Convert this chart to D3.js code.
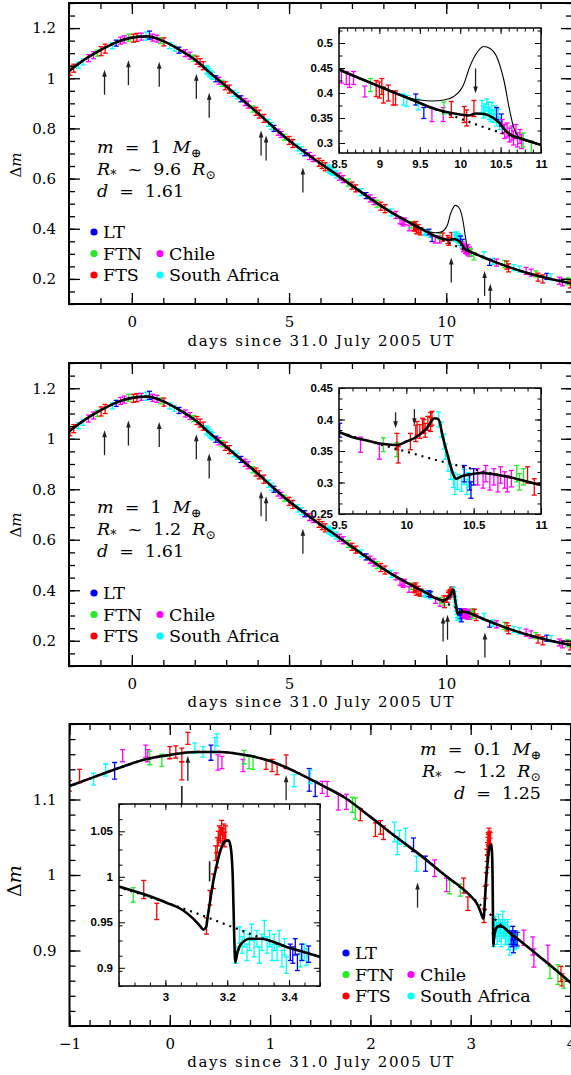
<!DOCTYPE html>
<meta charset="utf-8">
<head>
<style>
  body, html { margin: 0; background: #fff; }
  svg { display: block; font-family: "DejaVu Serif", serif; }
  .lbl { white-space: pre; }
</style>
<script src="https://cdn.jsdelivr.net/npm/d3@7"></script>
</head>
<body>
<svg id="chart" width="571" height="1075"></svg>
<script>
// sites
const siteNames = ["LT", "FTN", "FTS", "Chile", "South Africa"];
const siteColors = ["#0000ff", "#22ee22", "#ff0000", "#ff00ff", "#00ffff"];

// tick labels
const xMajorMain = [0, 5, 10];
const yMajorMain = [0.2, 0.4, 0.6, 0.8, 1, 1.2];
const xMajorIn1 = [8.5, 9, 9.5, 10, 10.5, 11];
const yMajorIn1 = [0.3, 0.35, 0.4, 0.45, 0.5];
const xMajorIn2 = [9.5, 10, 10.5, 11];
const yMajorIn2 = [0.25, 0.3, 0.35, 0.4, 0.45];
const xMajorP3 = [-1, 0, 1, 2, 3, 4];
const yMajorP3 = [0.9, 1, 1.1];
const xMajorIn3 = [3, 3.2, 3.4];
const yMajorIn3 = [0.9, 0.95, 1, 1.05];

// model parameters shown in the panels
const p1Params = ["1", "9.6", "1.61"];
const p2Params = ["1", "1.2", "1.61"];
const p3Params = ["0.1", "1.2", "1.25"];

// no-planet model, panels 1 and 2  [t, dm]
const baseModel = [[-2,1.029],[-1.5,1.075],[-1,1.112],[-0.5,1.143],[0,1.162],[0.5,1.167],[1,1.148],[1.5,1.115],
  [2,1.075],[2.5,1.02],[3,0.968],[3.5,0.915],[4,0.862],[4.5,0.806],[5,0.752],[5.5,0.705],[6,0.66],[6.5,0.617],
  [7,0.572],[7.5,0.528],[8,0.485],[8.5,0.447],[9,0.413],[9.5,0.38],[9.75,0.364],[10,0.349],[10.25,0.334],
  [10.5,0.321],[10.75,0.309],[11,0.296],[11.5,0.27],[12,0.247],[12.5,0.227],[13,0.21],[13.5,0.195],[14,0.182]];
// planet models
const p1Planet = [[9.6,0.373],[9.8,0.363],[10,0.357],[10.1,0.355],[10.2,0.359],[10.3,0.358],[10.4,0.351],
  [10.48,0.341],[10.56,0.325],[10.65,0.314]];
const p1Large = [[9.2,0.399],[9.35,0.391],[9.5,0.386],[9.65,0.384],[9.8,0.386],[9.92,0.393],[10.04,0.416],
  [10.12,0.453],[10.2,0.479],[10.29,0.493],[10.37,0.489],[10.45,0.473],[10.54,0.426],[10.62,0.359],[10.66,0.332],[10.72,0.313]];
const p2Planet = [[9.6,0.372],[9.7,0.367],[9.83,0.361],[9.93,0.3595],[10,0.365],[10.08,0.373],[10.15,0.386],
  [10.21,0.402],[10.24,0.4],[10.27,0.373],[10.31,0.341],[10.35,0.312],[10.37,0.306],[10.41,0.31],[10.48,0.313],[10.56,0.315]];
const p3Base = [[-1,1.118],[-0.75,1.13],[-0.5,1.142],[-0.25,1.153],[0,1.159],[0.25,1.163],[0.5,1.163],[0.75,1.159],
  [1,1.151],[1.25,1.137],[1.5,1.12],[1.75,1.102],[2,1.077],[2.25,1.051],[2.5,1.026],[2.75,0.999],[3,0.972],
  [3.1,0.96],[3.2,0.947],[3.3,0.934],[3.4,0.922],[3.5,0.912],[3.75,0.885],[4,0.857]];
const p3Planet = [[3.0,0.972],[3.058,0.963],[3.09,0.954],[3.112,0.946],[3.123,0.942],[3.132,0.945],[3.136,0.954],
  [3.144,0.972],[3.155,0.995],[3.166,1.013],[3.179,1.03],[3.193,1.039],[3.204,1.04],[3.211,1.033],[3.218,0.998],
  [3.222,0.943],[3.226,0.906],[3.233,0.917],[3.247,0.927],[3.274,0.932],[3.306,0.932]];

// observations [t, dm, err, site]
const sharedObs = [[-1.97,1.03,.018,2],[-1.85,1.04,.016,2],[-1.7,1.052,.012,4],[-1.55,1.065,.012,4],[-1.38,1.08,.014,3],
  [-1.22,1.092,.014,3],[-1.1,1.1,.012,1],[-0.98,1.108,.018,2],[-0.85,1.118,.018,2],[-0.62,1.13,.012,4],[-0.5,1.14,.012,0],
  [-0.36,1.15,.014,3],[-0.24,1.155,.014,3],[-0.1,1.162,.014,1],[0.05,1.16,.016,2],[0.16,1.163,.016,2],[0.3,1.166,.014,3],
  [0.45,1.168,.016,4],[0.56,1.172,.016,0],[0.66,1.162,.014,3],[0.8,1.158,.014,3],[0.92,1.15,.012,1],[1.02,1.145,.016,2],
  [1.2,1.13,.012,4],[1.35,1.12,.012,4],[1.5,1.112,.012,0],[1.7,1.1,.014,3],[1.85,1.09,.014,3],[1.97,1.08,.012,1],
  [2.07,1.072,.016,2],[2.17,1.062,.016,2],[2.27,1.05,.016,2],[2.37,1.035,.016,4],[2.42,1.03,.016,4],[2.47,1.022,.016,4],
  [2.52,1.015,.014,4],[2.57,1.01,.014,4],
  [2.67,0.998,.012,0],[2.77,0.99,.014,3],[2.87,0.98,.012,1],[2.97,0.97,.016,2],[3.1,0.957,.016,2],[3.25,0.94,.012,4],
  [3.35,0.93,.012,4],[3.47,0.918,.012,0],[3.6,0.905,.014,3],[3.7,0.895,.014,3],[3.85,0.877,.012,1],[3.95,0.868,.016,2],
  [4.05,0.857,.016,2],[4.2,0.84,.016,2],[4.35,0.822,.014,4],[4.45,0.81,.014,4],[4.52,0.8,.012,0],[4.65,0.785,.012,3],
  [4.75,0.776,.012,3],[4.85,0.765,.012,1],[5.0,0.752,.016,2],[5.12,0.74,.016,2],[5.28,0.724,.014,4],[5.4,0.713,.014,4],
  [5.5,0.703,.012,0],[5.65,0.69,.014,3],[5.77,0.68,.012,3],[5.95,0.665,.016,2],[6.05,0.656,.016,2],[6.15,0.647,.016,2],
  [6.25,0.64,.014,4],[6.3,0.635,.014,4],[6.35,0.631,.014,4],[6.4,0.627,.014,4],[6.5,0.617,.014,4],[6.6,0.608,.014,3],
  [6.72,0.598,.014,3],[6.88,0.584,.014,1],
  [7.0,0.572,.014,2],[7.12,0.561,.014,2],[7.3,0.546,.014,4],[7.45,0.532,.012,0],[7.58,0.521,.014,3],[7.7,0.51,.014,3],
  [7.8,0.5,.014,1],[7.92,0.49,.016,2],[8.05,0.48,.016,2],[8.25,0.465,.014,4],[8.4,0.455,.014,3],
  [8.53,0.433,.013,3],[8.59,0.43,.013,3],[8.63,0.424,.013,3],[8.68,0.43,.013,3],[8.82,0.403,.011,3],[8.89,0.416,.013,1],
  [8.96,0.409,.016,2],[9.0,0.406,.016,2],[9.03,0.413,.016,2],[9.05,0.396,.016,2],[9.11,0.4,.016,2],[9.17,0.39,.014,2],
  [9.2,0.39,.014,2],[9.3,0.387,.011,4],[9.34,0.384,.011,4],[9.45,0.387,.011,0],[9.48,0.377,.011,4],
  [11.2,0.295,.014,4],[11.38,0.266,.012,0],[11.48,0.27,.012,4],[11.6,0.265,.014,3],[11.86,0.259,.014,1],[11.93,0.255,.016,2],
  [11.98,0.244,.016,2],[12.15,0.245,.012,4],[12.33,0.239,.012,4],[12.54,0.232,.014,3],[12.7,0.225,.014,3],[12.85,0.22,.012,1],
  [12.92,0.207,.016,2],[13.07,0.2,.016,2],[13.2,0.21,.012,0],[13.33,0.208,.012,4],[13.6,0.193,.014,3],[13.7,0.186,.014,3],
  [13.86,0.19,.014,1],[13.95,0.18,.016,2]];
const p1Obs = [[9.55,0.36,.011,0],[9.65,0.357,.014,3],[9.79,0.357,.014,3],[9.8,0.37,.012,1],[9.89,0.367,.016,2],
  [10.05,0.357,.016,2],[10.08,0.35,.016,2],[10.17,0.369,.016,2],
  [10.27,0.373,.012,4],[10.29,0.362,.012,4],[10.31,0.366,.012,4],[10.33,0.376,.012,4],[10.35,0.37,.012,4],[10.36,0.359,.012,4],
  [10.38,0.355,.012,4],[10.39,0.369,.012,4],[10.41,0.353,.012,4],[10.43,0.363,.012,4],[10.45,0.346,.012,4],[10.47,0.356,.012,4],
  [10.49,0.339,.012,4],[10.45,0.359,.012,0],[10.51,0.346,.012,0],
  [10.52,0.333,.014,3],[10.55,0.323,.014,3],[10.58,0.326,.014,3],[10.61,0.316,.014,3],[10.64,0.32,.014,3],[10.66,0.31,.014,3],
  [10.69,0.323,.014,3],[10.71,0.306,.014,3],[10.74,0.313,.014,3],[10.76,0.303,.014,3],[10.78,0.306,.014,1],[10.88,0.29,.014,1]];
const p2Obs = [[9.505,0.383,.011,0],[9.66,0.36,.012,3],[9.8,0.349,.012,3],[9.83,0.36,.011,1],[9.93,0.352,.011,1],
  [9.93,0.365,.013,2],[9.94,0.344,.013,2],[10.03,0.365,.013,2],[10.07,0.378,.013,2],[10.08,0.386,.011,2],[10.1,0.381,.011,2],
  [10.12,0.391,.011,2],[10.13,0.389,.011,2],[10.14,0.383,.011,2],[10.16,0.394,.011,2],[10.18,0.4,.011,2],[10.18,0.392,.011,2],
  [10.19,0.402,.011,2],
  [10.24,0.4,.012,4],[10.26,0.384,.012,4],[10.28,0.365,.012,4],[10.29,0.349,.012,4],[10.31,0.33,.012,4],[10.33,0.317,.012,4],
  [10.35,0.304,.012,4],[10.36,0.293,.012,4],[10.38,0.301,.012,4],[10.41,0.298,.012,4],[10.43,0.309,.012,4],[10.45,0.293,.012,4],
  [10.46,0.304,.012,4],[10.43,0.314,.013,0],[10.47,0.301,.013,0],[10.48,0.288,.013,0],[10.5,0.309,.013,0],
  [10.53,0.309,.013,3],[10.57,0.304,.013,3],[10.59,0.314,.013,3],[10.62,0.301,.013,3],[10.65,0.309,.013,3],[10.68,0.298,.013,3],
  [10.7,0.312,.013,3],[10.73,0.304,.013,3],[10.75,0.298,.013,3],[10.78,0.306,.013,3],
  [10.82,0.314,.013,1],[10.84,0.301,.013,1],[10.87,0.309,.013,1],[10.9,0.312,.013,2],[10.95,0.293,.013,2]];
const p3Obs = [[-1.0,1.118,.007,2],[-0.9,1.131,.009,2],[-0.76,1.127,.008,4],[-0.64,1.139,.008,4],[-0.55,1.138,.011,0],
  [-0.47,1.158,.008,3],[-0.24,1.164,.008,3],[-0.22,1.158,.008,3],[-0.2,1.155,.009,1],[-0.08,1.152,.008,1],[0.0,1.162,.008,2],
  [0.06,1.163,.008,2],[0.12,1.159,.009,2],[0.12,1.138,.012,2],[0.18,1.181,.008,2],[0.25,1.168,.007,4],[0.33,1.163,.007,4],
  [0.41,1.162,.01,0],[0.45,1.172,.01,4],[0.47,1.179,.008,4],[0.48,1.149,.01,3],[0.52,1.149,.008,3],[0.73,1.145,.008,3],
  [0.74,1.156,.009,1],[0.79,1.15,.009,1],[0.83,1.149,.009,1],[0.96,1.146,.006,2],[1.02,1.145,.008,2],[1.07,1.14,.007,2],
  [1.16,1.15,.009,2],[1.24,1.125,.008,4],[1.39,1.126,.015,0],[1.4,1.13,.009,4],[1.45,1.114,.01,0],[1.52,1.116,.008,3],
  [1.57,1.114,.01,3],[1.68,1.097,.011,3],[1.76,1.097,.01,3],[1.82,1.093,.01,1],[1.85,1.088,.014,1],[1.9,1.08,.008,2],
  [2.05,1.06,.009,2],[2.1,1.063,.009,2],[2.13,1.056,.009,2],[2.24,1.057,.013,4],[2.27,1.039,.012,4],[2.29,1.05,.009,4],
  [2.35,1.05,.012,4],[2.43,1.04,.009,0],[2.46,1.015,.01,4],[2.55,1.015,.01,0],[2.64,1.009,.011,3],[2.76,0.987,.009,3],
  [2.79,0.984,.009,1],[3.53,0.917,.01,3],[3.62,0.906,.012,3],[3.63,0.89,.012,3],[3.77,0.895,.012,3],[3.79,0.871,.008,1],
  [3.87,0.868,.013,1],[3.9,0.869,.01,2],[3.91,0.861,.008,2],[3.93,0.857,.007,1]];
const p3InsetObs = [[2.896,0.98,.008,1],[2.93,0.986,.01,2],[2.972,0.962,.009,2],[3.133,0.946,.009,2],[3.144,0.977,.008,2],
  [3.155,0.995,.008,2],[3.166,1.018,.008,2],[3.163,1.026,.008,2],[3.168,1.035,.008,2],[3.171,1.042,.008,2],[3.174,1.048,.008,2],
  [3.178,1.046,.008,2],[3.182,1.054,.008,2],[3.185,1.045,.008,2],[3.189,1.05,.008,2],[3.192,1.041,.008,2],[3.195,1.048,.008,2],
  [3.228,0.914,.009,4],[3.24,0.936,.009,4],[3.248,0.925,.009,4],[3.255,0.932,.009,4],[3.264,0.917,.009,4],[3.272,0.928,.009,4],
  [3.279,0.939,.009,4],[3.287,0.921,.009,4],[3.296,0.932,.009,4],[3.304,0.914,.009,4],[3.312,0.928,.009,4],[3.32,0.943,.009,4],
  [3.329,0.925,.009,4],[3.337,0.932,.009,4],[3.345,0.917,.009,4],[3.352,0.928,.009,4],[3.361,0.917,.009,4],[3.368,0.932,.009,4],
  [3.377,0.91,.009,4],[3.385,0.923,.009,4],[3.391,0.903,.009,4],[3.436,0.91,.009,4],[3.449,0.917,.009,4],[3.457,0.912,.009,4],
  [3.404,0.917,.009,0],[3.412,0.914,.009,0],[3.42,0.923,.009,0],[3.427,0.906,.009,0],[3.441,0.917,.009,0],[3.463,0.915,.009,0]];

// observation-time arrows [t, dm at the arrow tip]
const arrowsEarly = [[-0.87,1.034],[-0.11,1.072],[0.87,1.066],[2.05,1.018],[2.46,0.942],[4.11,0.792],[4.27,0.772],[5.44,0.644]];
const p1ArrowsLate = [[10.16,0.285],[11.22,0.232],[11.4,0.181]];
const p2ArrowsLate = [[9.9,0.296],[10.04,0.303],[11.23,0.233]];
const p1InsetArrows = [[10.19,0.399]];
const p2InsetArrows = [[9.92,0.386],[10.06,0.391]];
const p3Arrows = [[0.18,1.158],[1.16,1.132],[2.47,0.99]];
const p3Marks = [[0.12,1.118]];
const p3InsetMarks = [[3.143,1.017]];

const svg = d3.select("#chart");
const line = (x, y) => d3.line().x(d => x(d[0])).y(d => y(d[1])).curve(d3.curveMonotoneX);
const withPlanet = (base, pl) => base.filter(p => p[0] < pl[0][0]).concat(pl, base.filter(p => p[0] > pl[pl.length - 1][0]));
const fmt = d3.format("");
let clipN = 0;

function drawAxes(g, x, y, o) {
  const [l, r] = x.range(), [b, t] = y.range();
  function side(axis, vals, len, lab, pos, pad) {
    const a = g.append("g").attr("transform", pos)
      .call(axis.tickValues(vals).tickSize(-len).tickPadding(pad || 3).tickFormat(lab ? fmt : () => ""));
    a.select(".domain").remove();
    a.attr("font-family", o.font).attr("font-size", o.fontSize).attr("font-weight", o.weight || null);
    a.selectAll("line").attr("stroke-width", o.tickW);
  }
  const xMin = d3.range(x.domain()[0], x.domain()[1] + 1e-9, o.xStep).map(v => +v.toFixed(4));
  const yMin = d3.range(o.yMinStart, y.domain()[1] + 1e-9, o.yStep).map(v => +v.toFixed(4));
  side(d3.axisBottom(x), xMin, o.minor, false, `translate(0,${b})`);
  side(d3.axisTop(x), xMin, o.minor, false, `translate(0,${t})`);
  side(d3.axisLeft(y), yMin, o.minor, false, `translate(${l},0)`);
  side(d3.axisRight(y), yMin, o.minor, false, `translate(${r},0)`);
  side(d3.axisBottom(x), o.xMajor, o.major, true, `translate(0,${b})`, o.xPad);
  side(d3.axisTop(x), o.xMajor, o.major, false, `translate(0,${t})`);
  side(d3.axisLeft(y), o.yMajor, o.major, true, `translate(${l},0)`, o.yPad);
  side(d3.axisRight(y), o.yMajor, o.major, false, `translate(${r},0)`);
  g.append("rect").attr("x", l).attr("y", t).attr("width", r - l).attr("height", b - t)
    .attr("fill", "none").attr("stroke", "#000").attr("stroke-width", o.frameW);
}

function drawObs(g, x, y, obs, capW) {
  const e = g.append("g").selectAll("g").data(obs).join("g")
    .attr("stroke", d => siteColors[d[3]]).attr("stroke-width", 1.3);
  e.append("line").attr("x1", d => x(d[0])).attr("x2", d => x(d[0]))
    .attr("y1", d => y(d[1] - d[2])).attr("y2", d => y(d[1] + d[2]));
  e.append("line").attr("x1", d => x(d[0]) - capW).attr("x2", d => x(d[0]) + capW)
    .attr("y1", d => y(d[1] - d[2])).attr("y2", d => y(d[1] - d[2]));
  e.append("line").attr("x1", d => x(d[0]) - capW).attr("x2", d => x(d[0]) + capW)
    .attr("y1", d => y(d[1] + d[2])).attr("y2", d => y(d[1] + d[2]));
}

function drawArrows(g, x, y, list, dir, len, head) {
  const a = g.append("g").selectAll("g").data(list).join("g").attr("stroke", "#222").attr("fill", "#222");
  a.append("line").attr("x1", d => x(d[0])).attr("x2", d => x(d[0]))
    .attr("y1", d => y(d[1]) + dir * len).attr("y2", d => y(d[1]) + (head ? dir * 4 : 0))
    .attr("stroke-width", head ? 1.3 : 1.6);
  if (head) a.append("path").attr("stroke", "none")
    .attr("d", d => { const px = x(d[0]), py = y(d[1]);
      return `M${px},${py}L${px - 2.3},${py + dir * 7}L${px + 2.3},${py + dir * 7}Z`; });
}

function plot(c) {
  const g = svg.append("g");
  const x = d3.scaleLinear().domain(c.xDomain).range([c.left, c.right]);
  const y = d3.scaleLinear().domain(c.yDomain).range([c.bottom, c.top]);
  if (c.inset) g.append("rect").attr("x", c.left).attr("y", c.top)
    .attr("width", c.right - c.left).attr("height", c.bottom - c.top).attr("fill", "#fff");
  const id = "clip" + (clipN++);
  g.append("clipPath").attr("id", id).append("rect").attr("x", c.left).attr("y", c.top)
    .attr("width", c.right - c.left).attr("height", c.bottom - c.top);
  const inner = g.append("g").attr("clip-path", `url(#${id})`);
  drawObs(inner, x, y, c.obs.filter(d => d[0] > c.xDomain[0] - 0.1 && d[0] < c.xDomain[1] + 0.1), c.capW);
  inner.append("path").datum(c.base).attr("d", line(x, y)).attr("fill", "none")
    .attr("stroke", "#000").attr("stroke-width", 2.2).attr("stroke-dasharray", "2,5");
  if (c.large) inner.append("path").datum(withPlanet(c.base, c.large)).attr("d", line(x, y))
    .attr("fill", "none").attr("stroke", "#000").attr("stroke-width", 1.1);
  inner.append("path").datum(withPlanet(c.base, c.planet)).attr("d", line(x, y))
    .attr("fill", "none").attr("stroke", "#000").attr("stroke-width", 2.6);
  if (c.arrows) drawArrows(g, x, y, c.arrows, c.arrowDir, c.arrowLen, true);
  if (c.marks) drawArrows(g, x, y, c.marks, 1, c.arrowLen, false);
  drawAxes(g, x, y, c.axes);
  return g;
}

function mainText(g, c) {
  // x and y axis titles
  g.append("text").attr("x", (c.left + c.right) / 2).attr("y", c.xTitleY).attr("text-anchor", "middle")
    .attr("font-size", 15).attr("textLength", 266).attr("lengthAdjust", "spacing")
    .text("days since 31.0 July 2005 UT");
  const yt = g.append("text").attr("transform", `translate(21,${c.yTitleY}) rotate(-90)`)
    .attr("text-anchor", "middle").attr("font-size", c.yTitleSize);
  yt.append("tspan").text("Δ");
  yt.append("tspan").attr("font-style", "italic").text("m");
  // model parameters
  const rows = [
    [["m", 1], ["  =  " + c.params[0] + "  ", 0], ["M", 1], ["⊕", 2]],
    [["R", 1], ["*", 2], ["  ~  " + c.params[1] + "  ", 0], ["R", 1], ["⊙", 2]],
    [["d", 1], ["  =  " + c.params[2], 0]]
  ];
  rows.forEach((row, i) => {
    const t = g.append("text").attr("class", "lbl").attr("x", c.textX).attr("y", c.textY + i * 22)
      .attr("font-size", 17.5).attr("text-anchor", c.textAnchor);
    let low = false;
    row.forEach(s => {
      const ts = t.append("tspan").text(s[0]);
      if (s[1] === 1) ts.attr("font-style", "italic");
      if (s[1] === 2) { ts.attr("dy", 4).attr("font-size", 12.5); low = true; }
      else if (low) { ts.attr("dy", -4); low = false; }
    });
  });
  // legend
  const pos = [[0, 0], [0, 1], [0, 2], [1, 1], [1, 2]];
  const lg = g.append("g").selectAll("g").data(siteNames).join("g")
    .attr("transform", (d, i) => `translate(${c.legX + pos[i][0] * c.legCol},${c.legY + pos[i][1] * 21.5})`);
  lg.append("circle").attr("r", 3.6).attr("fill", (d, i) => siteColors[i]);
  lg.append("text").attr("x", 9).attr("y", 6).attr("font-size", 17.5).text(d => d);
}

const mainAxes = { xMajor: xMajorMain, yMajor: yMajorMain, xStep: 1, yStep: 0.05, yMinStart: 0.1,
  major: 11, minor: 6, tickW: 1.3, frameW: 2, font: "DejaVu Serif", fontSize: 15, xPad: 12, yPad: 13 };
const inAxes = { font: "Liberation Sans", fontSize: 11.5, weight: "bold", major: 6, minor: 3.5,
  tickW: 1, frameW: 1.5, xPad: 7, yPad: 6 };

// panel 1
const g1 = plot({ left: 69, right: 572, top: 3, bottom: 304, xDomain: [-2, 14], yDomain: [0.1, 1.3],
  obs: sharedObs.concat(p1Obs), base: baseModel, planet: p1Planet, large: p1Large, capW: 2.5,
  arrows: arrowsEarly.concat(p1ArrowsLate), arrowDir: 1, arrowLen: 25, axes: mainAxes });
mainText(g1, { left: 69, right: 572, xTitleY: 346, yTitleY: 165, yTitleSize: 15, params: p1Params,
  textX: 97, textY: 153, textAnchor: "start", legX: 94, legY: 232, legCol: 66 });
plot({ inset: true, left: 339, right: 541, top: 28, bottom: 153, xDomain: [8.5, 11], yDomain: [0.28, 0.53],
  obs: sharedObs.concat(p1Obs), base: baseModel, planet: p1Planet, large: p1Large, capW: 2.5,
  arrows: p1InsetArrows, arrowDir: -1, arrowLen: 25,
  axes: Object.assign({}, inAxes, { xMajor: xMajorIn1, yMajor: yMajorIn1, xStep: 0.1, yStep: 0.025, yMinStart: 0.3 }) });

// panel 2
const g2 = plot({ left: 69, right: 572, top: 363, bottom: 666, xDomain: [-2, 14], yDomain: [0.1, 1.3],
  obs: sharedObs.concat(p2Obs), base: baseModel, planet: p2Planet, capW: 2.5,
  arrows: arrowsEarly.concat(p2ArrowsLate), arrowDir: 1, arrowLen: 25, axes: mainAxes });
mainText(g2, { left: 69, right: 572, xTitleY: 707, yTitleY: 525, yTitleSize: 15, params: p2Params,
  textX: 97, textY: 513, textAnchor: "start", legX: 94, legY: 593, legCol: 66 });
plot({ inset: true, left: 339, right: 541, top: 388, bottom: 514, xDomain: [9.5, 11], yDomain: [0.25, 0.45],
  obs: p2Obs, base: baseModel, planet: p2Planet, capW: 2.5,
  arrows: p2InsetArrows, arrowDir: -1, arrowLen: 16,
  axes: Object.assign({}, inAxes, { xMajor: xMajorIn2, yMajor: yMajorIn2, xStep: 0.1, yStep: 0.05 / 3, yMinStart: 0.25 }) });

// panel 3
const g3 = plot({ left: 69.5, right: 571, top: 724, bottom: 1026, xDomain: [-1, 4], yDomain: [0.8, 1.2],
  obs: p3Obs.concat(p3InsetObs), base: p3Base, planet: p3Planet, capW: 2.5,
  arrows: p3Arrows, marks: p3Marks, arrowDir: 1, arrowLen: 25,
  axes: Object.assign({}, mainAxes, { xMajor: xMajorP3, yMajor: yMajorP3, xStep: 0.2, yStep: 0.02, yMinStart: 0.8 }) });
mainText(g3, { left: 69.5, right: 571, xTitleY: 1067, yTitleY: 881, yTitleSize: 19, params: p3Params,
  textX: 541, textY: 755, textAnchor: "end", legX: 346, legY: 953, legCol: 65 });
plot({ inset: true, left: 119, right: 320, top: 804, bottom: 986, xDomain: [2.85, 3.5], yDomain: [0.88, 1.08],
  obs: p3InsetObs, base: p3Base, planet: p3Planet, capW: 2.5,
  marks: p3InsetMarks, arrowLen: 20,
  axes: Object.assign({}, inAxes, { xMajor: xMajorIn3, yMajor: yMajorIn3, xStep: 0.05, yStep: 0.05 / 3, yMinStart: 0.88 }) });
</script>
</body>
